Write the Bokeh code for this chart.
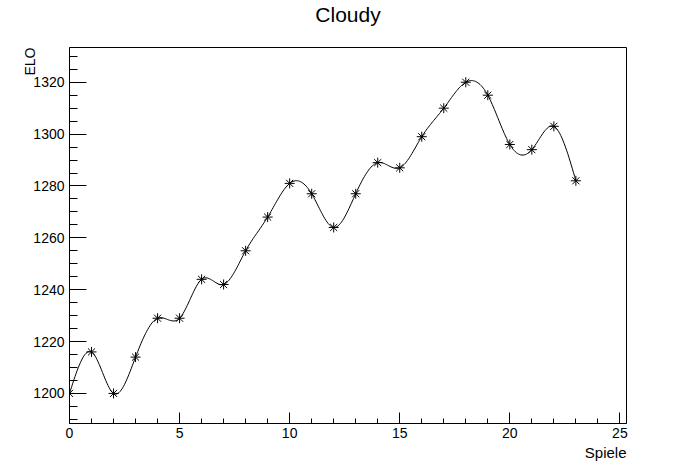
import numpy as np
from bokeh.plotting import figure
from bokeh.models import SingleIntervalTicker, Range1d, Title
from bokeh.embed import file_html
from bokeh.resources import INLINE

# Data
spiele = list(range(24))
elo = [1200, 1216, 1200, 1214, 1229, 1229, 1244, 1242, 1255, 1268,
       1281, 1277, 1264, 1277, 1289, 1287, 1299, 1310, 1320, 1315,
       1296, 1294, 1303, 1282]
title_text = "Cloudy"
x_title = "Spiele"
y_title = "ELO"

X0, X1 = 0.0, 25.3
Y0, Y1 = 1188.4, 1333.4

FONT = "Liberation Sans"


def natural_spline(x, y, n=20):
    x = np.asarray(x, float)
    y = np.asarray(y, float)
    m = len(x)
    h = np.diff(x)
    A = np.zeros((m, m))
    r = np.zeros(m)
    A[0, 0] = 1
    A[-1, -1] = 1
    for i in range(1, m - 1):
        A[i, i - 1] = h[i - 1]
        A[i, i] = 2 * (h[i - 1] + h[i])
        A[i, i + 1] = h[i]
        r[i] = 3 * ((y[i + 1] - y[i]) / h[i] - (y[i] - y[i - 1]) / h[i - 1])
    c = np.linalg.solve(A, r)
    xs, ys = [], []
    for i in range(m - 1):
        b = (y[i + 1] - y[i]) / h[i] - h[i] * (2 * c[i] + c[i + 1]) / 3
        d = (c[i + 1] - c[i]) / (3 * h[i])
        t = np.linspace(0, h[i], n, endpoint=(i == m - 2))
        xs.extend(x[i] + t)
        ys.extend(y[i] + b * t + c[i] * t ** 2 + d * t ** 3)
    return xs, ys


sx, sy = natural_spline(spiele, elo)

p = figure(width=696, height=472, output_backend="svg", toolbar_location=None,
           x_range=Range1d(X0, X1), y_range=Range1d(Y0, Y1),
           min_border_left=69, min_border_right=70, min_border_top=47,
           min_border_bottom=49)
p.background_fill_color = "white"
p.border_fill_color = "white"
p.outline_line_color = "black"
p.outline_line_width = 1
p.grid.visible = False

p.title.text = title_text
p.title.align = "center"
p.title.text_font = FONT
p.title.text_font_size = "21px"
p.title.text_font_style = "normal"
p.title.text_color = "black"
p.title.standoff = 0

# invisible spacer between frame and title
p.add_layout(Title(text=" ", text_font_size="2px", standoff=18), "above")

p.line(sx, sy, line_color="black", line_width=1)
p.scatter(spiele, elo, marker="asterisk", size=10, line_color="black", line_width=1)

xa = p.xaxis[0]
xa.ticker = SingleIntervalTicker(interval=5, num_minor_ticks=5)
xa.major_tick_in = 11
xa.major_tick_out = 0
xa.minor_tick_in = 5
xa.minor_tick_out = 0
xa.major_label_standoff = 4
xa.major_label_text_font = FONT
xa.major_label_text_font_size = "14px"
xa.major_label_text_color = "black"
xa.axis_line_color = "black"
xa.major_tick_line_color = "black"
xa.minor_tick_line_color = "black"

ya = p.yaxis[0]
ya.ticker = SingleIntervalTicker(interval=20, num_minor_ticks=4)
ya.major_tick_in = 17
ya.major_tick_out = 0
ya.minor_tick_in = 8
ya.minor_tick_out = 0
ya.major_label_standoff = 5
ya.major_label_text_font = FONT
ya.major_label_text_font_size = "14px"
ya.major_label_text_color = "black"
ya.axis_line_color = "black"
ya.major_tick_line_color = "black"
ya.minor_tick_line_color = "black"

p.add_layout(Title(text=x_title, align="right", text_font=FONT,
                   text_font_size="15px", text_font_style="normal",
                   text_color="black", standoff=2), "below")
p.add_layout(Title(text=y_title, align="right", text_font=FONT,
                   text_font_size="14px", text_font_style="normal",
                   text_color="black", standoff=-14), "left")

open("out.html", "w").write(file_html(p, INLINE))
